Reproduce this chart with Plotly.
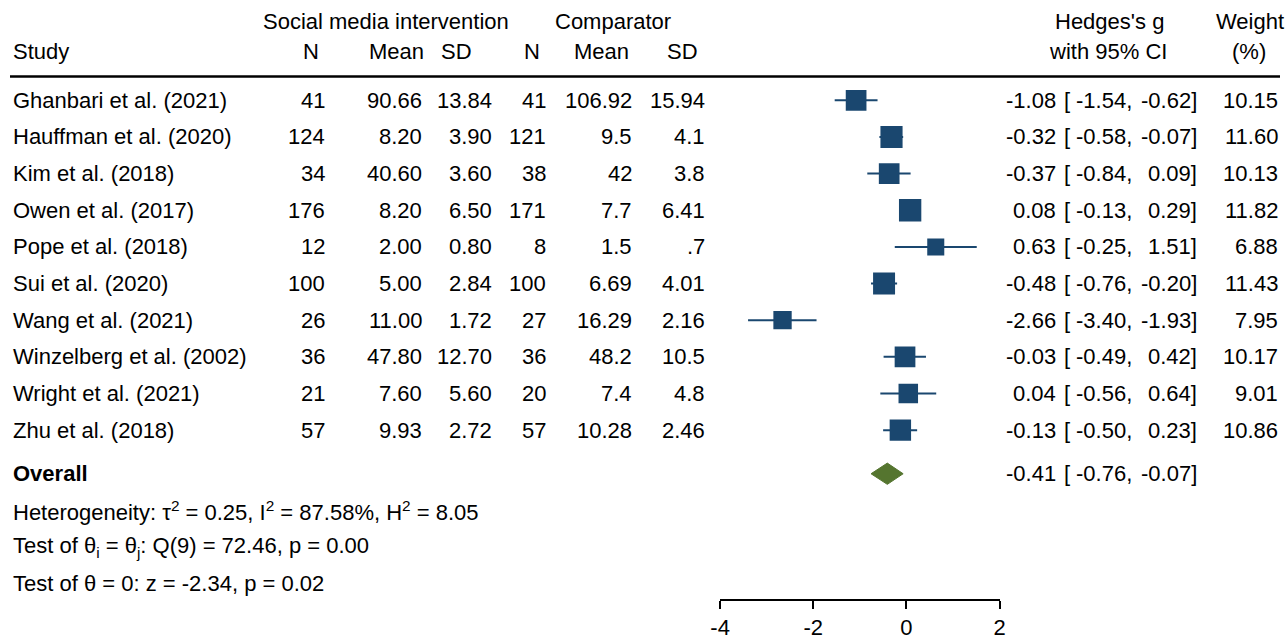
import plotly.graph_objects as go

# ---- data ----
studies = ["Ghanbari et al. (2021)", "Hauffman et al. (2020)", "Kim et al. (2018)",
           "Owen et al. (2017)", "Pope et al. (2018)", "Sui et al. (2020)",
           "Wang et al. (2021)", "Winzelberg et al. (2002)", "Wright et al. (2021)",
           "Zhu et al. (2018)"]
n1 = ["41", "124", "34", "176", "12", "100", "26", "36", "21", "57"]
mean1 = ["90.66", "8.20", "40.60", "8.20", "2.00", "5.00", "11.00", "47.80", "7.60", "9.93"]
sd1 = ["13.84", "3.90", "3.60", "6.50", "0.80", "2.84", "1.72", "12.70", "5.60", "2.72"]
n2 = ["41", "121", "38", "171", "8", "100", "27", "36", "20", "57"]
mean2 = ["106.92", "9.5", "42", "7.7", "1.5", "6.69", "16.29", "48.2", "7.4", "10.28"]
sd2 = ["15.94", "4.1", "3.8", "6.41", ".7", "4.01", "2.16", "10.5", "4.8", "2.46"]
g = [-1.08, -0.32, -0.37, 0.08, 0.63, -0.48, -2.66, -0.03, 0.04, -0.13]
lo = [-1.54, -0.58, -0.84, -0.13, -0.25, -0.76, -3.40, -0.49, -0.56, -0.50]
hi = [-0.62, -0.07, 0.09, 0.29, 1.51, -0.20, -1.93, 0.42, 0.64, 0.23]
weight = [10.15, 11.60, 10.13, 11.82, 6.88, 11.43, 7.95, 10.17, 9.01, 10.86]
overall = (-0.41, -0.76, -0.07)
x_ticks = [-4, -2, 0, 2]
stats_lines = [
    "Heterogeneity: τ<sup>2</sup> = 0.25, I<sup>2</sup> = 87.58%, H<sup>2</sup> = 8.05",
    "Test of θ<sub>i</sub> = θ<sub>j</sub>: Q(9) = 72.46, p = 0.00",
    "Test of θ = 0: z = -2.34, p = 0.02",
]

W, H = 1286, 640
NAVY = "#1a476f"
GREEN = "#55752f"
FONT = "Liberation Sans, Arial, sans-serif"
FS = 22

# layout helpers: target picture pixel -> figure pixel (compensates the frame)
def PX(t):
    return min(max((t - 10) / 0.986, 0), W - 1) / W

def PY(t):
    return t / 0.988

row0, rowstep = PY(101), 36.9 / 0.988
y_top = -row0 / rowstep
y_bot = (H - row0) / rowstep

def ROW(t):  # picture pixel -> row units
    return (PY(t) - row0) / rowstep

rows = list(range(len(studies)))
y_overall = ROW(477)
y_stats = [ROW(515), ROW(551), ROW(588)]
y_head1, y_head2, y_line = ROW(22), ROW(52), ROW(77)

fig = go.Figure()

xs, ys = [], []
for i in rows:
    xs += [lo[i], hi[i], None]
    ys += [i, i, None]
fig.add_trace(go.Scatter(x=xs, y=ys, mode="lines",
                         line=dict(color=NAVY, width=2), hoverinfo="skip"))
fig.add_trace(go.Scatter(x=g, y=rows, mode="markers",
                         marker=dict(symbol="square", color=NAVY, opacity=1,
                                     size=[6.5 * w ** 0.5 for w in weight],
                                     line=dict(width=0)),
                         hoverinfo="skip"))
dh = 0.29
og, olo, ohi = overall
fig.add_trace(go.Scatter(x=[olo, og, ohi, og, olo],
                         y=[y_overall, y_overall - dh, y_overall, y_overall + dh, y_overall],
                         mode="lines", fill="toself", fillcolor=GREEN,
                         line=dict(color=GREEN, width=1), hoverinfo="skip"))

ann = []
def txt(t, y, s, anchor="left"):
    ann.append(dict(x=PX(t), xref="paper", y=y, yref="y", text=s, showarrow=False,
                    xanchor=anchor, yanchor="middle", borderpad=0, align=anchor,
                    font=dict(family=FONT, size=FS, color="black")))

txt(385, y_head1, "Social media intervention", "center")
txt(612, y_head1, "Comparator", "center")
txt(1108, y_head1, "Hedges's g", "center")
txt(1248, y_head1, "Weight", "center")
txt(12, y_head2, "Study")
txt(311, y_head2, "N", "center")
txt(396, y_head2, "Mean", "center")
txt(456, y_head2, "SD", "center")
txt(531, y_head2, "N", "center")
txt(601, y_head2, "Mean", "center")
txt(681, y_head2, "SD", "center")
txt(1106, y_head2, "with 95% CI", "center")
txt(1247, y_head2, "(%)", "center")

for i in rows:
    txt(12, i, studies[i])
    txt(326, i, n1[i], "right")
    txt(422, i, mean1[i], "right")
    txt(492, i, sd1[i], "right")
    txt(546, i, n2[i], "right")
    txt(632, i, mean2[i], "right")
    txt(705, i, sd2[i], "right")
    txt(1055, i, f"{g[i]:.2f}", "right")
    txt(1061, i, "[")
    txt(1131, i, f"{lo[i]:.2f},", "right")
    txt(1196, i, f"{hi[i]:.2f}]", "right")
    txt(1281, i, f"{weight[i]:.2f}", "right")

txt(12, y_overall, "<b>Overall</b>")
txt(1055, y_overall, f"{og:.2f}", "right")
txt(1061, y_overall, "[")
txt(1131, y_overall, f"{olo:.2f},", "right")
txt(1196, y_overall, f"{ohi:.2f}]", "right")

for y, s in zip(y_stats, stats_lines):
    txt(12, y, s)

fig.update_layout(
    width=W, height=H, margin=dict(l=0, r=0, t=0, b=0),
    paper_bgcolor="white", plot_bgcolor="white", showlegend=False,
    annotations=ann,
    shapes=[dict(type="line", xref="paper", yref="y", x0=PX(4), x1=1,
                 y0=y_line, y1=y_line, line=dict(color="black", width=2.5))],
    xaxis=dict(domain=[PX(719), PX(998)], range=[-4, 2], anchor="free",
               position=1 - PY(604) / H, showgrid=False, zeroline=False,
               showline=True, linecolor="black", linewidth=2,
               ticks="outside", ticklen=8, tickwidth=2, tickcolor="black",
               tickvals=x_ticks, ticktext=[str(t) for t in x_ticks],
               tickfont=dict(family=FONT, size=FS, color="black")),
    yaxis=dict(domain=[0, 1], range=[y_bot, y_top], visible=False),
)

fig.write_html("out.html", config={"displayModeBar": False},
               post_script="document.body.style.margin='0px';")
